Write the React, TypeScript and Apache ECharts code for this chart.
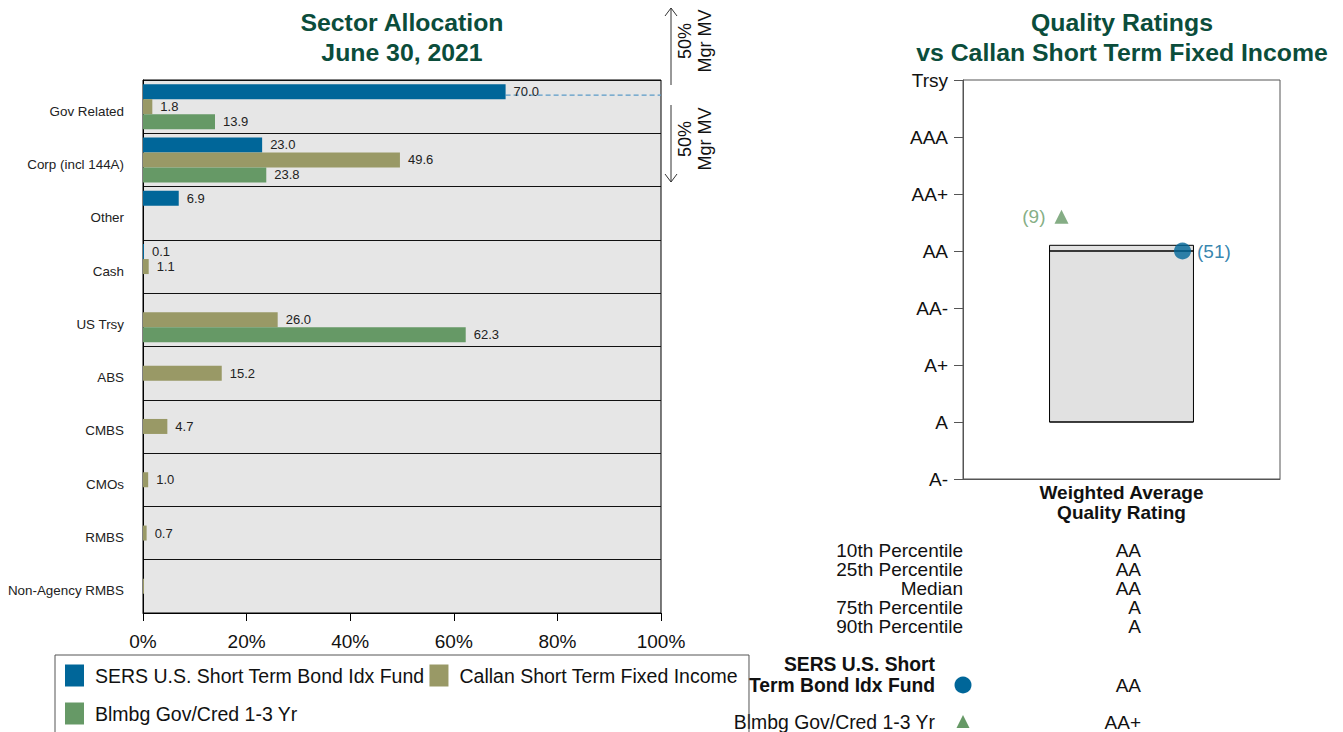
import React, { useEffect, useRef } from 'react';
import * as echarts from 'echarts';

// ---------- Sector allocation data ----------
const categories = [
  'Gov Related',
  'Corp (incl 144A)',
  'Other',
  'Cash',
  'US Trsy',
  'ABS',
  'CMBS',
  'CMOs',
  'RMBS',
  'Non-Agency RMBS',
];
const seriesNames = [
  'SERS U.S. Short Term Bond Idx Fund',
  'Callan Short Term Fixed Income',
  'Blmbg Gov/Cred 1-3 Yr',
];
const fundValues = [70.0, 23.0, 6.9, 0.1, null, null, null, null, null, null];
const callanValues = [1.8, 49.6, null, 1.1, 26.0, 15.2, 4.7, 1.0, 0.7, 0.04];
const indexValues = [13.9, 23.8, null, null, 62.3, null, null, null, null, null];
const xTickValues = [0, 20, 40, 60, 80, 100];

// ---------- Quality ratings data ----------
const ratingLabels = ['A-', 'A', 'A+', 'AA-', 'AA', 'AA+', 'AAA', 'Trsy'];
const qualityCategory = 'Weighted Average\nQuality Rating';
const percentileLabels = ['10th Percentile', '25th Percentile', 'Median', '75th Percentile', '90th Percentile'];
const percentileRatings = ['AA', 'AA', 'AA', 'A', 'A'];
const percentileValues = [4.1, 4.0, 4.0, 1.0, 1.0];
const fundRating = 4.0;
const fundRatingLabel = 'AA';
const fundRank = 51;
const indexRating = 4.6;
const indexRatingLabel = 'AA+';
const indexRank = 9;

const BLUE = '#006699';
const TAN = '#999966';
const GREEN = '#669966';
const TITLE = '#0b4d3b';
const FONT = 'Arial, "Liberation Sans", Helvetica, sans-serif';
const BAR_W = 15;

function barSeries(name: string, data: (number | null)[], color: string) {
  return {
    type: 'bar',
    name,
    xAxisIndex: 0,
    yAxisIndex: 0,
    data,
    barWidth: BAR_W,
    barGap: '0%',
    barMinHeight: 1,
    itemStyle: { color },
    label: {
      show: true,
      position: 'right',
      distance: 8,
      fontSize: 13,
      color: '#222',
      fontFamily: FONT,
      formatter: (p: any) => (p.value == null || p.value < 0.05 ? '' : Number(p.value).toFixed(1)),
    },
  };
}

export default function App() {
  const ref = useRef<HTMLDivElement>(null);

  useEffect(() => {
    document.body.style.margin = '0';
    const chart = echarts.init(ref.current as HTMLDivElement, null, { renderer: 'svg' });

    const option: any = {
      animation: false,
      textStyle: { fontFamily: FONT },
      grid: [
        {
          left: 143,
          top: 80,
          width: 518,
          height: 533,
          show: true,
          backgroundColor: '#e6e6e6',
          borderColor: '#000',
          borderWidth: 1,
        },
        {
          left: 963,
          top: 80,
          width: 317,
          height: 399,
          show: true,
          backgroundColor: '#fff',
          borderColor: '#555',
          borderWidth: 1,
        },
      ],
      legend: {
        data: seriesNames,
        left: 55,
        top: 655,
        width: 700,
        orient: 'horizontal',
        icon: 'rect',
        itemWidth: 19,
        itemHeight: 22,
        itemGap: 5,
        padding: [4, 11, 24, 10],
        borderColor: '#555',
        borderWidth: 1,
        textStyle: { fontSize: 19.5, color: '#111', lineHeight: 33, fontFamily: FONT, padding: [0, 0, 0, 6] },
      },
      xAxis: [
        {
          type: 'value',
          gridIndex: 0,
          min: 0,
          max: 100,
          interval: 20,
          axisLine: { show: true, lineStyle: { color: '#000' } },
          axisTick: { show: true, length: 8, lineStyle: { color: '#000' } },
          splitLine: { show: false },
          axisLabel: {
            fontSize: 19,
            color: '#111',
            margin: 19,
            formatter: (v: number) => (xTickValues.includes(v) ? v + '%' : ''),
          },
        },
        {
          type: 'category',
          gridIndex: 1,
          data: [qualityCategory],
          axisLine: { show: true, lineStyle: { color: '#555' } },
          axisTick: { show: false },
          axisLabel: {
            fontSize: 19,
            fontWeight: 'bold',
            color: '#111',
            lineHeight: 20,
            margin: 3,
          },
        },
      ],
      yAxis: [
        {
          type: 'category',
          gridIndex: 0,
          data: categories,
          inverse: true,
          axisLine: { show: true, lineStyle: { color: '#000' } },
          axisTick: { show: false },
          splitLine: { show: true, lineStyle: { color: '#111', width: 1.2 } },
          axisLabel: { fontSize: 13.4, color: '#222', margin: 19, verticalAlign: 'top', lineHeight: 9 },
        },
        {
          type: 'value',
          gridIndex: 1,
          min: 0,
          max: 7,
          interval: 1,
          axisLine: { show: true, lineStyle: { color: '#555' } },
          axisTick: { show: true, length: 9, lineStyle: { color: '#555' } },
          splitLine: { show: false },
          axisLabel: {
            fontSize: 19,
            color: '#111',
            margin: 15,
            formatter: (v: number) => ratingLabels[v] ?? '',
          },
        },
      ],
      series: [
        barSeries(seriesNames[0], fundValues, BLUE),
        barSeries(seriesNames[1], callanValues, TAN),
        barSeries(seriesNames[2], indexValues, GREEN),
        {
          type: 'custom',
          name: 'Callan box',
          xAxisIndex: 1,
          yAxisIndex: 1,
          data: [[0, ...percentileValues]],
          encode: { x: 0, y: [1, 2, 3, 4, 5] },
          z: 2,
          renderItem: (params: any, api: any) => {
            const xi = api.value(0);
            const p10 = api.coord([xi, api.value(1)]);
            const p25 = api.coord([xi, api.value(2)]);
            const med = api.coord([xi, api.value(3)]);
            const p75 = api.coord([xi, api.value(4)]);
            const p90 = api.coord([xi, api.value(5)]);
            const w = api.size([1, 0])[0] * 0.454;
            const left = p10[0] - w / 2;
            const ln = (y: number) => ({
              type: 'line',
              shape: { x1: left, y1: y, x2: left + w, y2: y },
              style: { stroke: '#000', lineWidth: 1 },
            });
            return {
              type: 'group',
              children: [
                {
                  type: 'rect',
                  shape: { x: left, y: p10[1], width: w, height: p90[1] - p10[1] },
                  style: { fill: '#e1e1e1', stroke: '#000', lineWidth: 1 },
                },
                ln(p25[1]),
                ln(med[1]),
                ln(p75[1]),
              ],
            };
          },
        },
        {
          type: 'scatter',
          name: 'fund rating',
          xAxisIndex: 1,
          yAxisIndex: 1,
          data: [[0, fundRating]],
          symbol: 'circle',
          symbolSize: 17,
          symbolOffset: [61, 0],
          itemStyle: { color: BLUE },
          z: 5,
          label: {
            show: true,
            position: 'right',
            distance: 6,
            fontSize: 19,
            color: BLUE,
            formatter: () => '(' + fundRank + ')',
          },
        },
        {
          type: 'scatter',
          name: 'index rating',
          xAxisIndex: 1,
          yAxisIndex: 1,
          data: [[0, indexRating]],
          symbol: 'triangle',
          symbolSize: 14,
          symbolOffset: [-60, 0],
          itemStyle: { color: GREEN },
          z: 5,
          label: {
            show: true,
            position: 'left',
            distance: 9,
            fontSize: 19,
            color: GREEN,
            formatter: () => '(' + indexRank + ')',
          },
        },
      ],
    };

    chart.setOption(option);

    const start = chart.convertToPixel({ xAxisIndex: 0, yAxisIndex: 0 }, [fundValues[0] as number, categories[0]]) as number[];
    const end = chart.convertToPixel({ xAxisIndex: 0, yAxisIndex: 0 }, [100, categories[0]]) as number[];
    const dashY = start[1] - BAR_W + 3.5;

    const txt = (x: number, y: number, text: string, opts: any = {}) => ({
      type: 'text',
      x,
      y,
      silent: true,
      rotation: opts.rotation || 0,
      style: {
        text,
        fill: opts.fill || '#111',
        fontSize: opts.fontSize || 19,
        fontWeight: opts.fontWeight || 'normal',
        fontFamily: FONT,
        align: opts.align || 'right',
        verticalAlign: 'middle',
        lineHeight: opts.lineHeight || 20,
      },
    });

    const rowStep = 19.2;
    const graphics: any[] = [
      txt(402, 37, 'Sector Allocation\nJune 30, 2021', { fill: TITLE, fontSize: 24.8, fontWeight: 'bold', align: 'center', lineHeight: 30 }),
      txt(1122, 37, 'Quality Ratings\nvs Callan Short Term Fixed Income', { fill: TITLE, fontSize: 24.8, fontWeight: 'bold', align: 'center', lineHeight: 30 }),
      // dashed marker
      {
        type: 'line',
        silent: true,
        shape: { x1: start[0], y1: dashY, x2: end[0], y2: dashY },
        style: { stroke: '#5b9bc8', lineWidth: 1.2, lineDash: [5, 3] },
      },
      // arrows
      { type: 'line', silent: true, shape: { x1: 671, y1: 8, x2: 671, y2: 85 }, style: { stroke: '#333', lineWidth: 1 } },
      { type: 'polyline', silent: true, shape: { points: [[665, 16], [671, 8], [677, 16]] }, style: { stroke: '#333', lineWidth: 1, fill: null } },
      { type: 'line', silent: true, shape: { x1: 671, y1: 105, x2: 671, y2: 182 }, style: { stroke: '#333', lineWidth: 1 } },
      { type: 'polyline', silent: true, shape: { points: [[665, 174], [671, 182], [677, 174]] }, style: { stroke: '#333', lineWidth: 1, fill: null } },
      txt(695, 41, '50%\nMgr MV', { fontSize: 18, align: 'center', lineHeight: 19.5, rotation: Math.PI / 2 }),
      txt(695, 139, '50%\nMgr MV', { fontSize: 18, align: 'center', lineHeight: 19.5, rotation: Math.PI / 2 }),
    ];
    percentileLabels.forEach((l, i) => {
      graphics.push(txt(963, 550 + i * rowStep, l));
      graphics.push(txt(1141, 550 + i * rowStep, percentileRatings[i]));
    });
    graphics.push(txt(935, 674.5, 'SERS U.S. Short\nTerm Bond Idx Fund', { fontSize: 19.3, fontWeight: 'bold', lineHeight: 21 }));
    graphics.push({ type: 'circle', silent: true, shape: { cx: 963, cy: 685, r: 8.5 }, style: { fill: BLUE } });
    graphics.push(txt(1141, 685, fundRatingLabel));
    graphics.push(txt(935, 722, seriesNames[2], { fontSize: 19.4 }));
    graphics.push({ type: 'polygon', silent: true, shape: { points: [[963, 715], [969.5, 728], [956.5, 728]] }, style: { fill: GREEN } });
    graphics.push(txt(1141, 722, indexRatingLabel));

    chart.setOption({ graphic: graphics });

    return () => chart.dispose();
  }, []);

  return <div ref={ref} style={{ width: 1343, height: 732, overflow: 'hidden' }} />;
}
